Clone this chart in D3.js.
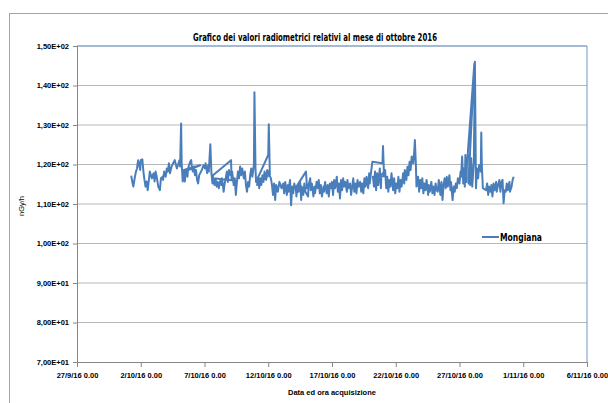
<!DOCTYPE html>
<html>
<head>
<meta charset="utf-8">
<script src="https://cdn.jsdelivr.net/npm/d3@7"></script>
<style>
  body { margin: 0; background: #fff; }
  svg { display: block; }
</style>
</head>
<body>
<svg id="chart" width="608" height="403"></svg>
<script>
// Acquisition time, in hours from 1/10/2016 0.00, in the order the readings were logged
const acqHours = [
  6, 8, 10, 13, 15, 17, 19, 23, 24, 27, 29, 31, 33, 35, 37, 40, 41, 45, 48, 50,
  52, 54, 57, 60, 62, 65, 66, 68, 71, 73, 75, 77, 79, 82, 85, 88, 92, 95, 97, 98,
  100, 101, 103, 105, 136, 106, 107, 109, 112, 113, 117, 119, 120, 122, 124, 126, 128, 130, 132, 134,
  139, 142, 145, 146, 149, 151, 152, 155, 157, 159, 160, 194, 195, 161, 163, 165, 167, 169, 171, 174,
  176, 177, 180, 182, 184, 186, 188, 190, 193, 196, 199, 201, 203, 205, 207, 209, 211, 213, 215, 218,
  220, 222, 224, 226, 228, 230, 232, 234, 237, 238, 240, 241, 264, 265, 267, 243, 245, 247, 249, 251,
  253, 255, 257, 260, 262, 269, 271, 273, 275, 277, 279, 282, 285, 289, 292, 294, 296, 299, 301, 302,
  305, 307, 309, 311, 313, 315, 335, 337, 316, 317, 319, 321, 324, 326, 327, 330, 332, 334, 339, 340,
  343, 344, 346, 349, 351, 352, 355, 357, 359, 361, 363, 365, 368, 369, 371, 374, 376, 378, 380, 382,
  384, 386, 388, 390, 393, 395, 397, 399, 401, 403, 405, 407, 409, 412, 413, 415, 418, 420, 422, 424,
  426, 428, 430, 432, 434, 437, 439, 441, 443, 445, 447, 449, 452, 454, 455, 458, 460, 479, 480, 482,
  461, 463, 465, 467, 469, 471, 474, 476, 477, 484, 486, 488, 490, 492, 494, 496, 499, 501, 503, 505,
  507, 509, 511, 513, 515, 518, 520, 521, 524, 526, 528, 530, 532, 534, 537, 539, 540, 542, 543, 546,
  548, 550, 552, 554, 556, 558, 560, 562, 565, 566, 568, 571, 573, 575, 577, 579, 581, 583, 585, 588,
  590, 592, 594, 596, 598, 600, 602, 605, 607, 608, 611, 613, 615, 617, 619, 621, 624, 626, 627, 629,
  631, 632, 634, 635, 637, 638, 652, 641, 643, 644, 646, 648, 651, 653, 655, 657, 659, 661, 664, 665,
  666, 668, 674, 676, 678, 680, 682, 684, 686, 688, 690, 693, 694, 696, 699, 701, 703, 705, 707, 709,
  711, 713, 715, 718, 719, 722, 724, 726
];

// Dose rate, nGy/h
const doseRate = [
  117.2, 115.7, 114.4, 116.9, 118.2, 119.0, 121.1, 118.6, 121.1, 121.3, 118.2, 116.1, 114.4, 115.7, 113.5, 116.9, 118.2, 116.5, 117.8, 115.7,
  118.2, 116.9, 114.4, 113.5, 116.5, 116.9, 116.1, 118.2, 116.9, 119.0, 118.2, 120.3, 117.8, 119.5, 120.3, 121.1, 119.0, 120.3, 121.1, 119.5,
  130.4, 120.3, 115.7, 118.6, 119.8, 118.2, 115.7, 118.6, 116.9, 119.0, 120.7, 121.1, 119.5, 118.2, 119.5, 117.3, 118.6, 116.1, 115.2, 117.3,
  118.6, 119.8, 119.0, 120.3, 117.8, 119.9, 118.2, 125.1, 117.8, 115.2, 117.3, 121.1, 116.0, 116.5, 114.8, 116.1, 114.4, 115.6, 114.0, 116.1,
  114.8, 116.5, 113.1, 115.2, 116.5, 118.2, 115.6, 118.6, 117.3, 118.2, 114.8, 116.5, 112.3, 115.6, 118.2, 116.5, 119.5, 117.3, 119.0, 116.5,
  118.2, 114.8, 113.1, 115.6, 114.4, 117.3, 119.0, 116.9, 119.9, 138.3, 119.0, 115.6, 122.4, 130.2, 117.5, 114.8, 116.9, 114.0, 116.5, 114.8,
  117.3, 115.6, 118.2, 116.1, 118.6, 116.5, 114.8, 112.3, 115.2, 111.0, 114.8, 113.1, 115.6, 114.0, 115.2, 112.7, 115.6, 112.3, 114.8, 113.1,
  116.1, 109.7, 114.4, 112.7, 115.2, 114.0, 118.2, 114.0, 114.0, 111.9, 114.8, 113.1, 115.6, 111.0, 114.4, 112.3, 115.2, 113.1, 111.9, 114.8,
  116.5, 113.5, 115.2, 111.9, 114.4, 112.7, 115.6, 114.0, 116.1, 112.7, 114.8, 111.9, 114.4, 113.1, 115.6, 112.7, 114.8, 111.9, 115.2, 114.0,
  115.6, 112.3, 116.1, 114.0, 116.9, 113.1, 115.2, 111.4, 116.1, 113.5, 116.5, 114.4, 115.6, 113.1, 116.1, 114.0, 115.2, 112.3, 114.4, 116.5,
  113.1, 115.2, 112.7, 116.1, 114.4, 115.6, 113.1, 115.2, 112.7, 116.5, 114.4, 116.9, 114.0, 117.8, 115.2, 118.6, 120.7, 120.3, 124.7, 117.0,
  116.9, 114.4, 118.2, 113.5, 117.8, 114.8, 119.0, 114.0, 117.3, 118.6, 114.0, 116.9, 113.1, 116.1, 114.4, 117.8, 113.5, 116.5, 112.7, 115.2,
  114.0, 116.9, 113.1, 116.1, 114.4, 117.8, 115.2, 118.6, 116.1, 119.4, 117.3, 120.7, 118.6, 122.0, 120.3, 123.7, 126.2, 119.4, 114.4, 116.9,
  113.1, 116.1, 114.0, 116.5, 112.7, 115.2, 113.5, 116.1, 112.3, 114.8, 113.1, 115.6, 112.7, 114.4, 112.3, 115.2, 113.5, 113.1, 116.1, 112.3,
  115.6, 111.0, 114.8, 116.5, 114.0, 116.9, 114.4, 117.3, 113.5, 115.6, 111.0, 114.4, 113.1, 115.2, 114.0, 116.5, 115.2, 118.2, 116.9, 122.0,
  115.2, 119.0, 114.4, 122.4, 115.6, 119.9, 145.6, 115.2, 122.4, 114.8, 121.6, 114.4, 120.7, 146.0, 114.0, 119.0, 116.5, 119.9, 118.2, 128.1,
  119.9, 114.0, 113.5, 115.2, 112.3, 114.4, 113.1, 114.8, 111.9, 115.2, 113.5, 115.6, 113.1, 114.4, 116.1, 113.1, 115.6, 116.1, 110.2, 113.5,
  113.1, 115.2, 113.5, 115.6, 113.1, 114.4, 116.1, 116.9
];

const seriesName = "Mongiana";
const chartTitle = "Grafico dei valori radiometrici relativi al mese di ottobre 2016";
const xAxisTitle = "Data ed ora acquisizione";
const yAxisTitle = "nGy/h";
const xTickDates = ["2016-09-27", "2016-10-02", "2016-10-07", "2016-10-12", "2016-10-17",
                    "2016-10-22", "2016-10-27", "2016-11-01", "2016-11-06"];
const yTickValues = [70, 80, 90, 100, 110, 120, 130, 140, 150];

const W = 608, H = 403;
const plot = { left: 77, right: 587, top: 46, bottom: 362 };
const lineBlue = "#4a7ebb";
const axisGrey = "#868686";
const gridGrey = "#b8b8b8";
const labelFont = "'Liberation Sans', Arial, sans-serif";
const narrowFont = "'Liberation Sans Narrow', 'DejaVu Sans Condensed', 'Liberation Sans', sans-serif";

const svg = d3.select("#chart");

const startMs = Date.UTC(2016, 9, 1);
const points = acqHours.map((h, i) => ({ t: new Date(startMs + h * 3600e3), v: doseRate[i] }));
const tickDates = xTickDates.map(s => new Date(s + "T00:00:00Z"));

const x = d3.scaleUtc()
  .domain([tickDates[0], tickDates[tickDates.length - 1]])
  .range([plot.left, plot.right]);
const y = d3.scaleLinear()
  .domain([d3.min(yTickValues), d3.max(yTickValues)])
  .range([plot.bottom, plot.top]);

// Chart area frame
svg.append("rect")
  .attr("x", 9.5).attr("y", 13.5)
  .attr("width", 640).attr("height", 420)
  .attr("fill", "#fff").attr("stroke", "#a5a5a5").attr("stroke-width", 1);

// Horizontal gridlines
svg.append("g").selectAll("line")
  .data(yTickValues.filter(v => v !== yTickValues[0]))
  .join("line")
  .attr("x1", plot.left).attr("x2", plot.right)
  .attr("y1", d => y(d)).attr("y2", d => y(d))
  .attr("stroke", gridGrey).attr("stroke-width", 1);

// Plot area border (top and right edges)
svg.append("path")
  .attr("d", `M${plot.left},${plot.top}H${plot.right}V${plot.bottom}`)
  .attr("fill", "none").attr("stroke", "#6f97cc").attr("stroke-width", 1);

// Scientific notation with a decimal comma, e.g. 1,50E+02
const sciFmt = v => {
  const [m, e] = v.toExponential(2).split("e");
  const n = parseInt(e, 10);
  return m.replace(".", ",") + "E" + (n < 0 ? "-" : "+") + String(Math.abs(n)).padStart(2, "0");
};
const dateFmt = d3.utcFormat("%-d/%-m/%y %-H.%M");

const yAxis = svg.append("g")
  .attr("transform", `translate(${plot.left},0)`)
  .call(d3.axisLeft(y).tickValues(yTickValues).tickFormat(sciFmt).tickSize(4).tickPadding(4));

const xAxis = svg.append("g")
  .attr("transform", `translate(0,${plot.bottom})`)
  .call(d3.axisBottom(x).tickValues(tickDates).tickFormat(dateFmt).tickSize(5).tickPadding(6));

[yAxis, xAxis].forEach(g => {
  g.select(".domain").attr("stroke", axisGrey);
  g.selectAll(".tick line").attr("stroke", axisGrey);
  g.selectAll(".tick text")
    .attr("fill", "#000")
    .style("font-family", labelFont)
    .style("font-size", "7.5px")
    .style("font-weight", "bold");
});

// Dose-rate series, drawn in acquisition order
const line = d3.line().x(d => x(d.t)).y(d => y(d.v));
svg.append("path")
  .datum(points)
  .attr("d", line)
  .attr("fill", "none")
  .attr("stroke", lineBlue)
  .attr("stroke-width", 2)
  .attr("stroke-linejoin", "round");

// Titles
svg.append("text")
  .attr("x", 315).attr("y", 41)
  .attr("text-anchor", "middle")
  .attr("textLength", 244).attr("lengthAdjust", "spacingAndGlyphs")
  .style("font-family", narrowFont)
  .style("font-size", "11px").style("font-weight", "bold")
  .text(chartTitle);

svg.append("text")
  .attr("x", (plot.left + plot.right) / 2).attr("y", 395)
  .attr("text-anchor", "middle")
  .style("font-family", labelFont)
  .style("font-size", "7.5px").style("font-weight", "bold")
  .text(xAxisTitle);

svg.append("text")
  .attr("transform", `translate(24,206) rotate(-90)`)
  .attr("text-anchor", "middle")
  .style("font-family", labelFont)
  .style("font-size", "7.5px")
  .text(yAxisTitle);

// Legend
const legend = svg.append("g").attr("transform", "translate(482,237)");
legend.append("line")
  .attr("x1", 0).attr("x2", 17).attr("y1", 0).attr("y2", 0)
  .attr("stroke", lineBlue).attr("stroke-width", 2);
legend.append("text")
  .attr("x", 18).attr("y", 4)
  .attr("textLength", 42).attr("lengthAdjust", "spacingAndGlyphs")
  .style("font-family", narrowFont)
  .style("font-size", "11px").style("font-weight", "bold")
  .text(seriesName);
</script>
</body>
</html>
